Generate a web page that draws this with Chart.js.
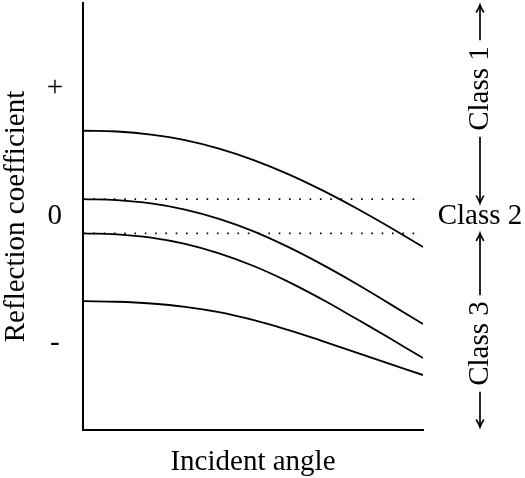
<!DOCTYPE html>
<html>
<head>
<meta charset="utf-8">
<script src="https://cdn.jsdelivr.net/npm/chart.js@4"></script>
<style>
  html, body { margin: 0; padding: 0; background: #fff; }
  #wrap { width: 525px; height: 478px; }
</style>
</head>
<body>
<div id="wrap"><canvas id="avoChart" width="525" height="478"></canvas></div>
<script>
// incident angle, normalised 0..1
const angles = [0, 0.1, 0.2, 0.3, 0.4, 0.5, 0.6, 0.7, 0.8, 0.9, 1.0];

// reflection coefficient vs angle, one curve per sand class
const class1 = [0.669, 0.663, 0.639, 0.596, 0.529, 0.441, 0.333, 0.207, 0.067, -0.084, -0.243];
const class2p = [0.133, 0.125, 0.099, 0.051, -0.022, -0.118, -0.238, -0.375, -0.525, -0.685, -0.847];
const class2 = [-0.136, -0.144, -0.170, -0.219, -0.293, -0.390, -0.510, -0.649, -0.800, -0.955, -1.114];
const class3 = [-0.667, -0.672, -0.686, -0.712, -0.754, -0.815, -0.891, -0.977, -1.067, -1.158, -1.247];

// bounds of the class 2 band (dotted)
const bandTop = 0.133;
const bandBottom = -0.136;

const yTicks = [-1, 0, 1];
const yTickLabels = ['-', '0', '+'];
const classLabels = ['Class 1', 'Class 2', 'Class 3'];

const serif = '"Liberation Serif", "Times New Roman", serif';

function curve(vals) {
    return {
        data: angles.map((a, i) => ({ x: a, y: vals[i] })),
        borderColor: '#000',
        borderWidth: 1.8,
        pointRadius: 0,
        tension: 0.4,
        fill: false
    };
}

function dotted(v) {
    return {
        data: [{ x: angles[0], y: v }, { x: angles[angles.length - 1], y: v }],
        borderColor: '#000',
        borderWidth: 1.6,
        borderDash: [1.6, 8.7],
        pointRadius: 0,
        fill: false
    };
}

// little LaTeX-style arrow tip, dir = -1 points up, 1 points down
function arrowTip(ctx, x, y, dir) {
    ctx.beginPath();
    ctx.moveTo(x - 3.8, y - dir * 7.5);
    ctx.quadraticCurveTo(x - 0.8, y - dir * 2.5, x, y);
    ctx.quadraticCurveTo(x + 0.8, y - dir * 2.5, x + 3.8, y - dir * 7.5);
    ctx.stroke();
}

function vline(ctx, x, y0, y1) {
    ctx.beginPath();
    ctx.moveTo(x, y0);
    ctx.lineTo(x, y1);
    ctx.stroke();
}

const classNotes = {
    id: 'classNotes',
    afterDraw(chart) {
        const { ctx, chartArea, scales: { y } } = chart;
        const x = chartArea.right + 57;
        ctx.save();
        ctx.strokeStyle = '#000';
        ctx.fillStyle = '#000';
        ctx.lineWidth = 1.7;
        ctx.font = '29px ' + serif;
        ctx.textAlign = 'center';
        ctx.textBaseline = 'middle';

        // Class 2 sits level with zero
        ctx.fillText(classLabels[1], x, y.getPixelForValue(0));

        const gap = 6;
        const rotated = (label, yc, top, bottom) => {
            const half = ctx.measureText(label).width / 2;
            ctx.save();
            ctx.translate(x, yc);
            ctx.rotate(-Math.PI / 2);
            ctx.fillText(label, 0, 0);
            ctx.restore();
            vline(ctx, x, top, yc - half - gap);
            vline(ctx, x, yc + half + gap, bottom);
            arrowTip(ctx, x, top, -1);
            arrowTip(ctx, x, bottom, 1);
        };

        rotated(classLabels[0], y.getPixelForValue(1),
            chartArea.top + 2, y.getPixelForValue(bandTop) + 4);
        rotated(classLabels[2], y.getPixelForValue(-1),
            y.getPixelForValue(bandBottom), chartArea.bottom - 3);

        ctx.restore();
    }
};

// keep the plot box fixed: no label overhang padding
function noOverhang(scale) {
    scale.paddingTop = 0;
    scale.paddingBottom = 0;
    scale.paddingLeft = 0;
    scale.paddingRight = 0;
}

const ctx = document.getElementById('avoChart').getContext('2d');
new Chart(ctx, {
    type: 'line',
    data: {
        datasets: [
            curve(class1), curve(class2p), curve(class2), curve(class3),
            dotted(bandTop), dotted(bandBottom)
        ]
    },
    options: {
        responsive: false,
        animation: false,
        layout: { padding: { left: 0, top: 3, right: 102, bottom: 0 } },
        plugins: { legend: { display: false }, tooltip: { enabled: false } },
        scales: {
            x: {
                type: 'linear',
                min: 0,
                max: 1,
                grid: { display: false, drawTicks: false },
                border: { display: true, color: '#000', width: 2 },
                ticks: { display: false },
                title: {
                    display: true,
                    text: 'Incident angle',
                    color: '#000',
                    font: { family: serif, size: 29, lineHeight: 1.1 },
                    padding: { top: 0, bottom: 0 }
                },
                afterFit(scale) { scale.height = 48; noOverhang(scale); }
            },
            y: {
                type: 'linear',
                min: -1.678,
                max: 1.671,
                grid: { display: false, drawTicks: false },
                border: { display: true, color: '#000', width: 2 },
                afterBuildTicks(scale) { scale.ticks = yTicks.map(v => ({ value: v })); },
                ticks: {
                    color: '#000',
                    font: { family: serif, size: 29 },
                    padding: 20,
                    crossAlign: 'center',
                    callback: (v) => yTickLabels[yTicks.indexOf(v)]
                },
                title: {
                    display: true,
                    text: 'Reflection coefficient',
                    color: '#000',
                    font: { family: serif, size: 29, lineHeight: 1.1 },
                    padding: { top: 0, bottom: 0 }
                },
                afterFit(scale) { scale.width = 83; noOverhang(scale); }
            }
        }
    },
    plugins: [classNotes]
});
</script>
</body>
</html>
